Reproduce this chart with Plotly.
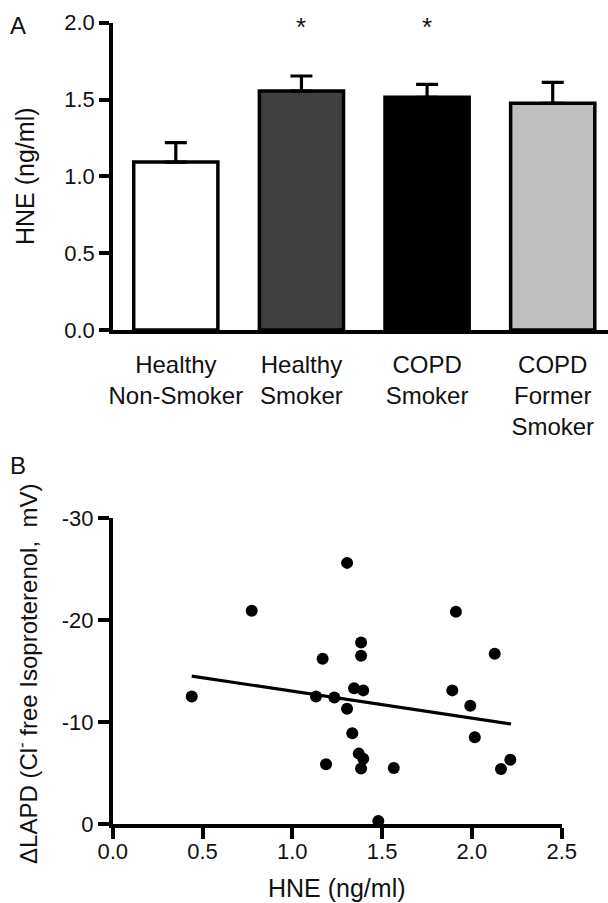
import plotly.graph_objects as go

# ---------------- data ----------------
# Panel A: HNE by group
categories = ["Healthy<br>Non-Smoker", "Healthy<br>Smoker", "COPD<br>Smoker", "COPD<br>Former<br>Smoker"]
hne_mean = [1.093, 1.555, 1.514, 1.475]
hne_err = [0.126, 0.098, 0.085, 0.137]
bar_colors = ["#ffffff", "#404040", "#000000", "#c0c0c0"]
significant = [False, True, True, False]
a_yticks = [0.0, 0.5, 1.0, 1.5, 2.0]

# Panel B: HNE vs delta LAPD
hne_x = [0.44, 0.774, 1.305, 1.169, 1.383, 1.383, 1.132, 1.234, 1.344, 1.395,
         1.305, 1.334, 1.370, 1.395, 1.188, 1.383, 1.565, 1.479,
         1.911, 2.127, 1.891, 1.991, 2.016, 2.214, 2.162]
lapd_y = [-12.5, -20.9, -25.6, -16.2, -17.8, -16.5, -12.5, -12.4, -13.3, -13.1,
          -11.3, -8.9, -6.9, -6.4, -5.85, -5.45, -5.5, -0.3,
          -20.8, -16.7, -13.1, -11.6, -8.5, -6.3, -5.4]
fit_x = [0.44, 2.218]
fit_y = [-14.5, -9.8]
b_xticks = [0.0, 0.5, 1.0, 1.5, 2.0, 2.5]
b_yticks = [0, -10, -20, -30]
b_yticktext = ["0", "-10", "-20", "-30"]

# ---------------- figure ----------------
W, H = 608, 903
FONT = "Liberation Sans, Arial, Helvetica, sans-serif"
TXT = "#111111"
LW = 3.5

def px_x(p):
    return p / W

def px_y(p):
    return 1 - p / H

fig = go.Figure()

fig.add_trace(go.Bar(
    x=list(range(len(categories))), y=hne_mean,
    marker=dict(color=bar_colors, line=dict(color="black", width=LW)),
    width=0.67,
    error_y=dict(type="data", array=hne_err, arrayminus=[0] * len(hne_err),
                 symmetric=False, color="black", thickness=3.2, width=11),
    xaxis="x", yaxis="y", showlegend=False,
))

fig.add_trace(go.Scatter(
    x=fit_x, y=fit_y, mode="lines",
    line=dict(color="black", width=3.2),
    xaxis="x2", yaxis="y2", showlegend=False,
))
fig.add_trace(go.Scatter(
    x=hne_x, y=lapd_y, mode="markers",
    marker=dict(color="black", size=12),
    cliponaxis=False,
    xaxis="x2", yaxis="y2", showlegend=False,
))

axis_common = dict(showline=True, linecolor="black", linewidth=LW, showgrid=False,
                   zeroline=False, automargin=False,
                   tickfont=dict(family=FONT, size=22, color=TXT),
                   tickcolor="black", tickwidth=LW)

fig.update_layout(
    template="none",
    width=W, height=H,
    margin=dict(l=0, r=0, t=0, b=0, pad=0),
    paper_bgcolor="white", plot_bgcolor="white",
    font=dict(family=FONT, size=22, color=TXT),
    xaxis=dict(domain=[px_x(113), 1.0], range=[-0.5, 3.44], anchor="y",
               tickvals=list(range(len(categories))), ticktext=categories,
               ticks="", ticklabelstandoff=10, **axis_common),
    yaxis=dict(domain=[px_y(330), px_y(22.7)], range=[0, 2.0], anchor="x",
               tickvals=a_yticks, tickformat=".1f", ticks="outside", ticklen=10,
               **axis_common),
    xaxis2=dict(domain=[px_x(112.7), px_x(561.7)], range=[0, 2.5], anchor="y2",
                tickvals=b_xticks, tickformat=".1f", ticks="outside", ticklen=11,
                ticklabelstandoff=-6, **axis_common),
    yaxis2=dict(domain=[px_y(824), px_y(518)], range=[0, -30], anchor="x2",
                tickvals=b_yticks, ticktext=b_yticktext, ticks="outside", ticklen=11,
                **axis_common),
)
fig.update_xaxes(tickfont=dict(size=24), selector=dict(anchor="y"))

ann = []
# significance asterisks
for i, s in enumerate(significant):
    if s:
        ann.append(dict(x=i, y=1.97, xref="x", yref="y", text="*", showarrow=False,
                        yanchor="middle", font=dict(size=26, color=TXT)))
# panel letters
ann.append(dict(x=px_x(18), y=px_y(25), xref="paper", yref="paper", text="A",
                showarrow=False, xanchor="center", yanchor="middle", font=dict(size=24, color=TXT)))
ann.append(dict(x=px_x(18), y=px_y(465), xref="paper", yref="paper", text="B",
                showarrow=False, xanchor="center", yanchor="middle", font=dict(size=24, color=TXT)))
# axis titles
ann.append(dict(x=px_x(25), y=px_y(176), xref="paper", yref="paper", text="HNE (ng/ml)",
                textangle=-90, showarrow=False, xanchor="center", yanchor="middle",
                font=dict(size=25, color=TXT)))
ann.append(dict(x=px_x(27), y=px_y(674), xref="paper", yref="paper",
                text="ΔLAPD (Cl<sup>-</sup> free Isoproterenol,  mV)",
                textangle=-90, showarrow=False, xanchor="center", yanchor="middle",
                font=dict(size=24, color=TXT)))
ann.append(dict(x=px_x(337), y=px_y(888), xref="paper", yref="paper", text="HNE (ng/ml)",
                showarrow=False, xanchor="center", yanchor="middle",
                font=dict(size=25, color=TXT)))
fig.update_layout(annotations=ann)

fig.write_html("out.html")
